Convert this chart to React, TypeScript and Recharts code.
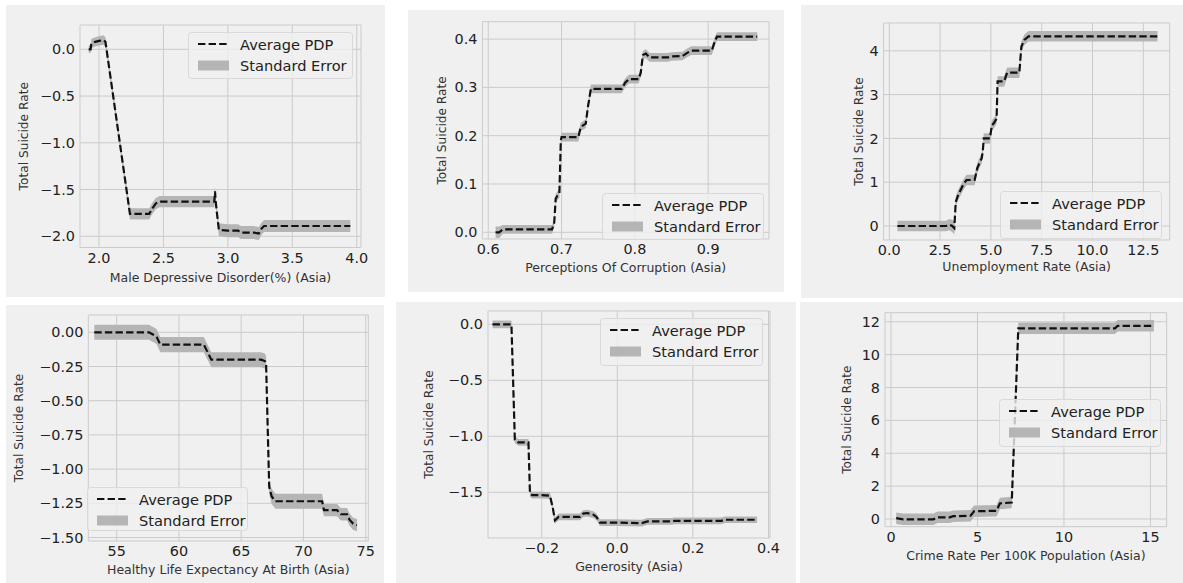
import React from "react";
import { ComposedChart, Line, Area, XAxis, YAxis, CartesianGrid } from "recharts";

const FONT = '"DejaVu Sans", Verdana, sans-serif';
const BAND = "#b5b5b5";

// Male Depressive Disorder(%)
const depressionX = [1.92, 1.935, 1.94, 1.97, 2.0, 2.035, 2.05, 2.24, 2.3, 2.39, 2.41, 2.44, 2.47, 2.6, 2.8, 2.895, 2.9, 2.905, 2.915, 2.93, 3.0, 3.08, 3.1, 3.2, 3.24, 3.26, 3.28, 3.5, 3.7, 3.95];
const depressionPdp = [0.0, 0.0, 0.06, 0.08, 0.09, 0.1, 0.08, -1.76, -1.76, -1.76, -1.71, -1.65, -1.63, -1.63, -1.63, -1.63, -1.52, -1.62, -1.75, -1.93, -1.94, -1.94, -1.96, -1.96, -1.97, -1.92, -1.89, -1.89, -1.89, -1.89];
const depressionSe = [0.04, 0.04, 0.05, 0.05, 0.05, 0.05, 0.05, 0.06, 0.06, 0.06, 0.06, 0.06, 0.06, 0.06, 0.06, 0.06, 0.05, 0.06, 0.06, 0.07, 0.07, 0.07, 0.07, 0.07, 0.07, 0.065, 0.065, 0.065, 0.065, 0.065];
const depressionXTicks = [2.0, 2.5, 3.0, 3.5, 4.0];
const depressionYTicks = [-2.0, -1.5, -1.0, -0.5, 0.0];

// Perceptions Of Corruption
const corruptionX = [0.61, 0.615, 0.62, 0.65, 0.687, 0.69, 0.692, 0.694, 0.697, 0.699, 0.7, 0.72, 0.723, 0.726, 0.733, 0.736, 0.74, 0.76, 0.782, 0.787, 0.792, 0.805, 0.808, 0.811, 0.815, 0.82, 0.845, 0.85, 0.865, 0.872, 0.877, 0.905, 0.909, 0.912, 0.94, 0.967];
const corruptionPdp = [0.0, 0.0, 0.006, 0.006, 0.006, 0.02, 0.07, 0.075, 0.08, 0.19, 0.197, 0.197, 0.197, 0.218, 0.225, 0.26, 0.297, 0.297, 0.297, 0.31, 0.317, 0.317, 0.33, 0.367, 0.37, 0.362, 0.362, 0.364, 0.365, 0.372, 0.376, 0.376, 0.395, 0.405, 0.405, 0.405];
const corruptionSe = [0.012, 0.012, 0.009, 0.009, 0.009, 0.009, 0.009, 0.009, 0.009, 0.009, 0.009, 0.009, 0.009, 0.009, 0.009, 0.009, 0.009, 0.009, 0.009, 0.009, 0.009, 0.009, 0.009, 0.009, 0.009, 0.009, 0.009, 0.009, 0.009, 0.009, 0.009, 0.009, 0.009, 0.009, 0.009, 0.009];
const corruptionXTicks = [0.6, 0.7, 0.8, 0.9];
const corruptionYTicks = [0.0, 0.1, 0.2, 0.3, 0.4];

// Unemployment Rate
const unemploymentX = [0.4, 1.5, 2.8, 2.95, 3.1, 3.2, 3.27, 3.4, 3.65, 3.8, 4.2, 4.33, 4.45, 4.55, 4.6, 4.65, 4.95, 5.05, 5.15, 5.28, 5.33, 5.65, 5.8, 6.4, 6.5, 6.65, 6.85, 8.0, 10.0, 13.2];
const unemploymentPdp = [0, 0, 0, 0.03, 0, -0.05, 0.55, 0.72, 0.95, 1.05, 1.05, 1.32, 1.45, 1.55, 1.7, 2.0, 2.0, 2.3, 2.35, 2.45, 3.3, 3.3, 3.5, 3.5, 4.1, 4.25, 4.33, 4.33, 4.33, 4.33];
const unemploymentSe = [0.12, 0.12, 0.12, 0.13, 0.14, 0.15, 0.13, 0.12, 0.12, 0.12, 0.12, 0.12, 0.12, 0.12, 0.12, 0.12, 0.12, 0.12, 0.12, 0.12, 0.12, 0.12, 0.12, 0.12, 0.12, 0.12, 0.12, 0.12, 0.12, 0.12];
const unemploymentXTicks = [0, 2.5, 5, 7.5, 10, 12.5];
const unemploymentYTicks = [0, 1, 2, 3, 4];

// Healthy Life Expectancy At Birth
const lifeX = [53.2, 55, 57.6, 57.8, 58.0, 58.2, 58.5, 60, 62.0, 62.6, 64, 66.6, 66.9, 67.0, 67.25, 67.45, 67.75, 69, 71.5, 71.65, 72.7, 73.0, 73.5, 73.7, 74.0, 74.3];
const lifePdp = [0, 0, 0, -0.01, -0.02, -0.03, -0.09, -0.09, -0.09, -0.2, -0.2, -0.2, -0.21, -0.23, -1.13, -1.2, -1.235, -1.235, -1.235, -1.3, -1.3, -1.33, -1.33, -1.37, -1.4, -1.41];
const lifeSe = [0.055, 0.055, 0.055, 0.055, 0.055, 0.055, 0.055, 0.055, 0.055, 0.055, 0.055, 0.055, 0.055, 0.055, 0.05, 0.055, 0.055, 0.055, 0.055, 0.045, 0.045, 0.045, 0.045, 0.045, 0.045, 0.045];
const lifeXTicks = [55, 60, 65, 70, 75];
const lifeYTicks = [-1.5, -1.25, -1.0, -0.75, -0.5, -0.25, 0.0];

// Generosity
const generosityX = [-0.33, -0.3, -0.28, -0.271, -0.262, -0.235, -0.231, -0.225, -0.2, -0.178, -0.17, -0.165, -0.155, -0.12, -0.099, -0.09, -0.08, -0.063, -0.055, -0.046, 0.0, 0.065, 0.08, 0.145, 0.15, 0.275, 0.285, 0.37];
const generosityPdp = [0, 0, 0, -1.03, -1.055, -1.055, -1.51, -1.525, -1.525, -1.53, -1.65, -1.75, -1.72, -1.72, -1.72, -1.69, -1.685, -1.7, -1.72, -1.77, -1.77, -1.775, -1.76, -1.76, -1.755, -1.755, -1.745, -1.745];
const generositySe = [0.035, 0.035, 0.035, 0.03, 0.03, 0.03, 0.03, 0.03, 0.03, 0.03, 0.03, 0.03, 0.03, 0.03, 0.03, 0.03, 0.03, 0.03, 0.03, 0.03, 0.03, 0.03, 0.03, 0.03, 0.03, 0.03, 0.03, 0.03];
const generosityXTicks = [-0.2, 0.0, 0.2, 0.4];
const generosityYTicks = [-1.5, -1.0, -0.5, 0.0];

// Crime Rate Per 100K Population
const crimeX = [0.3, 0.7, 1.5, 2.45, 2.7, 3.4, 3.6, 4.6, 4.8, 6.1, 6.3, 6.98, 7.36, 8, 10, 12.95, 13.1, 15.2];
const crimePdp = [0.05, -0.02, -0.02, -0.02, 0.1, 0.1, 0.17, 0.2, 0.47, 0.5, 0.95, 1.0, 11.6, 11.6, 11.6, 11.6, 11.75, 11.75];
const crimeSe = [0.35, 0.35, 0.35, 0.35, 0.35, 0.35, 0.35, 0.35, 0.35, 0.35, 0.35, 0.35, 0.35, 0.35, 0.35, 0.35, 0.35, 0.35];
const crimeXTicks = [0, 5, 10, 15];
const crimeYTicks = [0, 2, 4, 6, 8, 10, 12];

const panels = [
  {
    title: "Male Depressive Disorder(%) (Asia)", x: depressionX, pdp: depressionPdp, se: depressionSe,
    xTicks: depressionXTicks, yTicks: depressionYTicks, xDec: 1, yDec: 1,
    xDomain: [1.8525, 4.033], yDomain: [-2.12, 0.26],
    left: 6, top: 5, w: 379, h: 292, plot: { l: 74, r: 24, t: 20, b: 49.5 },
    yTitleX: 18, xTitleOff: 15.5, legend: { x: 182, y: 27, w: 165, h: 47 },
  },
  {
    title: "Perceptions Of Corruption (Asia)", x: corruptionX, pdp: corruptionPdp, se: corruptionSe,
    xTicks: corruptionXTicks, yTicks: corruptionYTicks, xDec: 1, yDec: 1,
    xDomain: [0.592, 0.983], yDomain: [-0.0139, 0.436],
    left: 408, top: 10, w: 376, h: 282, plot: { l: 74.4, r: 15, t: 11.7, b: 53 },
    yTitleX: 33.7, xTitleOff: 20.5, legend: { x: 193.7, y: 183.3, w: 162, h: 47 },
  },
  {
    title: "Unemployment Rate (Asia)", x: unemploymentX, pdp: unemploymentPdp, se: unemploymentSe,
    xTicks: unemploymentXTicks, yTicks: unemploymentYTicks, xDec: 1, yDec: 0,
    xDomain: [-0.28, 13.8], yDomain: [-0.32, 4.635],
    left: 801, top: 5, w: 382, h: 293, plot: { l: 82.6, r: 13.3, t: 18, b: 58 },
    yTitleX: 57.3, xTitleOff: 26.8, legend: { x: 199, y: 185.7, w: 162, h: 48 },
  },
  {
    title: "Healthy Life Expectancy At Birth (Asia)", x: lifeX, pdp: lifePdp, se: lifeSe,
    xTicks: lifeXTicks, yTicks: lifeYTicks, xDec: 0, yDec: 2,
    xDomain: [52.72, 75.21], yDomain: [-1.5256, 0.1265],
    left: 6, top: 305, w: 378, h: 278, plot: { l: 82.3, r: 15.7, t: 10, b: 42 },
    yTitleX: 13, xTitleOff: 9.2, legend: { x: 81.3, y: 182.3, w: 161, h: 44 },
  },
  {
    title: "Generosity (Asia)", x: generosityX, pdp: generosityPdp, se: generositySe,
    xTicks: generosityXTicks, yTicks: generosityYTicks, xDec: 1, yDec: 1,
    xDomain: [-0.342, 0.404], yDomain: [-1.908, 0.119],
    left: 396, top: 302, w: 400, h: 281, plot: { l: 92, r: 26, t: 9, b: 45 },
    yTitleX: 32.3, xTitleOff: 12.5, legend: { x: 204, y: 16.3, w: 163, h: 48 },
  },
  {
    title: "Crime Rate Per 100K Population (Asia)", x: crimeX, pdp: crimePdp, se: crimeSe,
    xTicks: crimeXTicks, yTicks: crimeYTicks, xDec: 0, yDec: 0,
    xDomain: [-0.347, 15.94], yDomain: [-0.468, 12.55],
    left: 800, top: 302, w: 383, h: 281, plot: { l: 85, r: 16.3, t: 10.7, b: 56.3 },
    yTitleX: 46.7, xTitleOff: 23.5, legend: { x: 199.3, y: 97.3, w: 162, h: 48 },
  },
];

const fmt = (dec: number) => (v: number) => v.toFixed(dec).replace("-", "\u2212");

function LegendBox({ x, y, w, h }: { x: number; y: number; w: number; h: number }) {
  return (
    <svg
      width={w}
      height={h}
      style={{ position: "absolute", left: x, top: y, overflow: "visible" }}
    >
      <rect x={0.5} y={0.5} width={w - 1} height={h - 1} rx={3} fill="rgba(240,240,240,0.8)" stroke="#d9d9d9" />
      <line x1={10} x2={41} y1={12} y2={12} stroke="#111" strokeWidth={2} strokeDasharray="7.4 3.2" />
      <rect x={10} y={28.5} width={31} height={10} fill={BAND} />
      <text x={52} y={12} dominantBaseline="central" fontFamily={FONT} fontSize={14.6} fill="#222">
        Average PDP
      </text>
      <text x={52} y={33.5} dominantBaseline="central" fontFamily={FONT} fontSize={14.6} fill="#222">
        Standard Error
      </text>
    </svg>
  );
}

function Panel({ cfg }: { cfg: (typeof panels)[number] }) {
  const rows = cfg.x.map((v, i) => ({
    x: v,
    pdp: cfg.pdp[i],
    band: [cfg.pdp[i] - cfg.se[i], cfg.pdp[i] + cfg.se[i]],
  }));
  return (
    <div
      style={{
        position: "absolute",
        left: cfg.left,
        top: cfg.top,
        width: cfg.w,
        height: cfg.h,
        background: "#f0f0f0",
      }}
    >
      <ComposedChart
        width={cfg.w}
        height={cfg.h}
        data={rows}
        margin={{ top: cfg.plot.t, right: cfg.plot.r, left: 0, bottom: 0 }}
        style={{ fontFamily: FONT }}
      >
        <CartesianGrid stroke="#cbcbcb" strokeWidth={1} />
        <XAxis
          dataKey="x"
          type="number"
          domain={cfg.xDomain}
          ticks={cfg.xTicks}
          allowDataOverflow
          interval={0}
          axisLine={false}
          tickLine={false}
          tickSize={0}
          tickMargin={5}
          height={cfg.plot.b}
          tick={{ fill: "#222", fontSize: 14.4 }}
          tickFormatter={fmt(cfg.xDec)}
          label={{
            value: cfg.title,
            position: "insideBottom",
            offset: cfg.xTitleOff,
            style: { fill: "#333", fontSize: 12.5 },
          }}
        />
        <YAxis
          type="number"
          domain={cfg.yDomain}
          ticks={cfg.yTicks}
          allowDataOverflow
          interval={0}
          axisLine={false}
          tickLine={false}
          tickSize={0}
          tickMargin={5}
          width={cfg.plot.l}
          tick={{ fill: "#222", fontSize: 14.4 }}
          tickFormatter={fmt(cfg.yDec)}
          label={{
            value: "Total Suicide Rate",
            angle: -90,
            position: "insideLeft",
            offset: cfg.yTitleX,
            style: { textAnchor: "middle", fill: "#333", fontSize: 12.2 },
          }}
        />
        <Area
          dataKey="band"
          type="linear"
          stroke="none"
          fill={BAND}
          fillOpacity={1}
          dot={false}
          activeDot={false}
          isAnimationActive={false}
        />
        <Line
          dataKey="pdp"
          type="linear"
          stroke="#111"
          strokeWidth={2.2}
          strokeDasharray="7.4 3.2"
          dot={false}
          activeDot={false}
          isAnimationActive={false}
        />
      </ComposedChart>
      <LegendBox {...cfg.legend} />
    </div>
  );
}

export default function App() {
  return (
    <div
      style={{
        position: "absolute",
        left: 0,
        top: 0,
        width: 1183,
        height: 583,
        background: "#fff",
        overflow: "hidden",
      }}
    >
      {panels.map((p) => (
        <Panel key={p.title} cfg={p} />
      ))}
    </div>
  );
}
